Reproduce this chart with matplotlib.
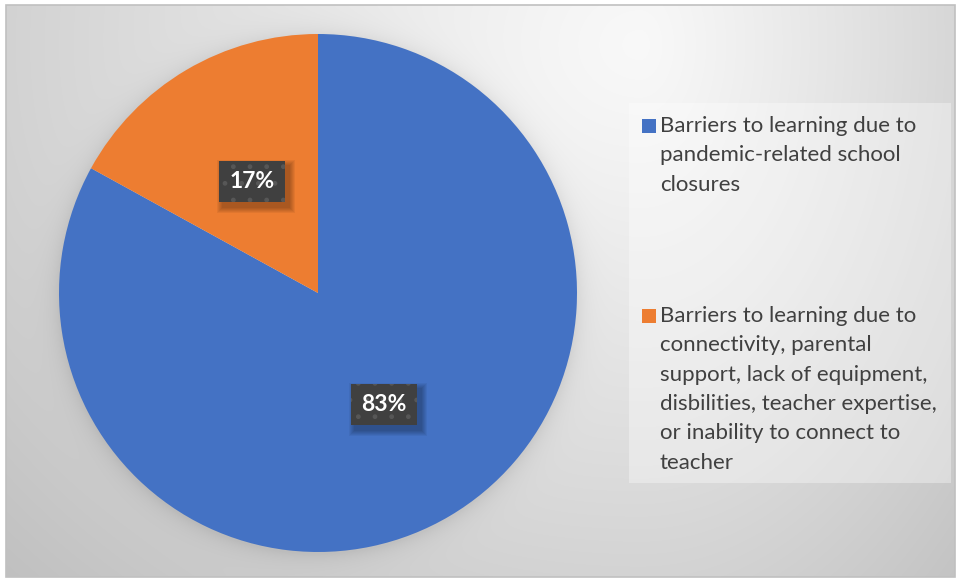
import numpy as np
import matplotlib
matplotlib.use("Agg")
import matplotlib.pyplot as plt
from matplotlib.patches import Rectangle
from matplotlib.transforms import IdentityTransform

# ---- data ----
categories = [
    "Barriers to learning due to\npandemic-related school\nclosures",
    "Barriers to learning due to\nconnectivity, parental\nsupport, lack of equipment,\ndisbilities, teacher expertise,\nor inability to connect to\nteacher",
]
values = [83, 17]
colors = ["#4472C4", "#ED7D31"]

W, H = 957, 580
FONT = "Lato"
TXT = "#404040"

fig = plt.figure(figsize=(W / 100, H / 100), dpi=100)
fig.patch.set_facecolor("white")

# background axes in pixel coords (y down)
bg = fig.add_axes([0, 0, 1, 1])
bg.set_xlim(0, W)
bg.set_ylim(H, 0)
bg.axis("off")

# pie axes
R = 259
cxp, cyp = 318, 293
pie_ax = fig.add_axes([(cxp - R) / W, (H - cyp - R) / H, 2 * R / W, 2 * R / H])

# ---- background gradient with pie shadow ----
x0, y0, x1, y1 = 6, 5, 955, 577
yy, xx = np.mgrid[y0:y1, x0:x1].astype(float) + 0.5
gx, gy = 640, 45
dx = xx - gx
sx = np.where(dx < 0, 760.0, 420.0)
d = np.sqrt((dx / sx) ** 2 + ((yy - gy) / 650.0) ** 2)
v = 0.975 - 0.185 * np.clip(d, 0, 1.4) ** 1.15
r = np.sqrt((xx - cxp) ** 2 + (yy - cyp - 2) ** 2)
v -= 0.07 * np.exp(-np.clip(r - R, 0, None) / 10.0) * (r > R - 3)
v = np.clip(v, 0, 1)
img = np.dstack([v, v, v])
bg.imshow(img, extent=(x0, x1, y1, y0), interpolation="bilinear", zorder=0, aspect="auto")
bg.add_patch(Rectangle((x0, y0), x1 - x0, y1 - y0, fill=False,
                       edgecolor="#c0c0c0", linewidth=1.2, zorder=2))

# legend panel
bg.add_patch(Rectangle((629, 103), 322, 380, facecolor="white", alpha=0.35,
                       edgecolor="none", zorder=1))

# ---- pie ----
wedges, texts, autotexts = pie_ax.pie(
    values, colors=colors, startangle=90, counterclock=False,
    autopct="%1.0f%%", pctdistance=0.5,
    wedgeprops=dict(linewidth=0, zorder=1),
    textprops=dict(color="white", fontsize=16.5, fontweight="bold", family=FONT),
)
pie_ax.set_xlim(-1, 1)
pie_ax.set_ylim(-1, 1)
pie_ax.set_aspect("equal")
pie_ax.axis("off")

for t in autotexts:
    t.set_ha("center")
    t.set_va("center")
    t.set_zorder(5)
    t.set_bbox(dict(boxstyle="square,pad=0.44", facecolor="#404040",
                    edgecolor="#575757", linewidth=0, hatch="."))

# soft shadows behind the label boxes (from rendered box extents, display coords)
fig.canvas.draw()
renderer = fig.canvas.get_renderer()
for t in autotexts:
    ext = t.get_bbox_patch().get_window_extent(renderer)
    for k in range(6):
        g = 6 - k
        pie_ax.add_patch(Rectangle((ext.x0 + 4 - g, ext.y0 - 5 - g), ext.width + 2 * g,
                                   ext.height + 2 * g, facecolor="black",
                                   alpha=0.05, edgecolor="none", zorder=3,
                                   transform=IdentityTransform(), clip_on=False))

# ---- legend ----
entry_tops = [126, 316]
for cat, col, yc in zip(categories, colors, entry_tops):
    bg.add_patch(Rectangle((642, yc - 7), 14, 14, facecolor=col, edgecolor="none", zorder=3))
    bg.text(660, yc - 10, cat, ha="left", va="top", fontsize=16, family=FONT,
            color=TXT, linespacing=1.585, zorder=3)

fig.savefig("out.png", dpi=100)
